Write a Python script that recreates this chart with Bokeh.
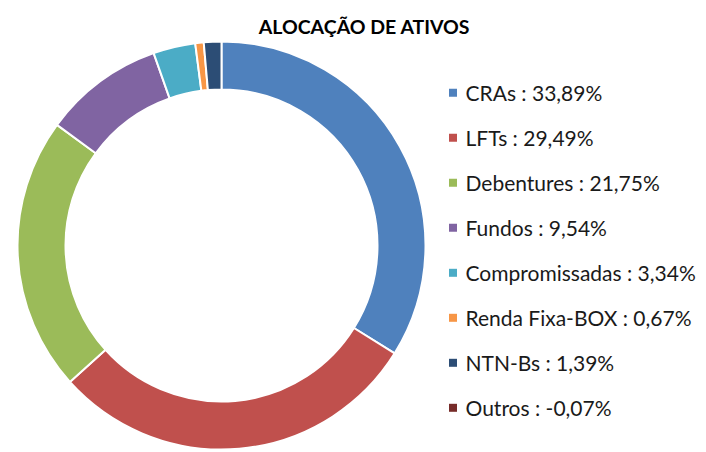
import math
from bokeh.plotting import figure
from bokeh.models import ColumnDataSource, Range1d
from bokeh.core.properties import value
from bokeh.embed import file_html
from bokeh.resources import INLINE

categories = ["CRAs", "LFTs", "Debentures", "Fundos", "Compromissadas",
              "Renda Fixa-BOX", "NTN-Bs", "Outros"]
values = [33.89, 29.49, 21.75, 9.54, 3.34, 0.67, 1.39, -0.07]
colors = ["#4F81BD", "#C0504D", "#9BBB59", "#8064A2", "#4BACC6",
          "#F79646", "#2C4D75", "#772C2A"]
title_text = "ALOCAÇÃO DE ATIVOS"

W, H = 704, 450
p = figure(width=W, height=H, output_backend="svg", toolbar_location=None,
           x_range=Range1d(0, W), y_range=Range1d(0, H), min_border=0)
p.axis.visible = False
p.grid.visible = False
p.outline_line_color = None

pos = [max(v, 0) for v in values]
total = sum(pos)
wc, ws, we = [], [], []
a = math.pi / 2
for v, c in zip(pos, colors):
    b = a - v / total * 2 * math.pi
    if v > 0:
        wc.append(c)
        ws.append(a)
        we.append(b)
    a = b

src = ColumnDataSource(dict(color=wc, start=ws, end=we))
cx, cy = 221, H - 245
p.annular_wedge(x=cx, y=cy, inner_radius=156, outer_radius=204,
                start_angle="start", end_angle="end", direction="clock",
                fill_color="color", line_color="white", line_width=2,
                source=src)

labels = [f"{c} : {v:.2f}%".replace(".", ",") for c, v in zip(categories, values)]
n = len(categories)
ly = [H - (92.3 + 45.0 * i) for i in range(n)]
lsrc = ColumnDataSource(dict(x=[452.5] * n, tx=[465] * n,
                             y=ly, color=colors, label=labels))
p.rect(x="x", y="y", width=8, height=8, fill_color="color", line_color=None,
       source=lsrc)
p.text(x="tx", y="y", text="label", text_font=value("Lato"),
       text_font_size="21px", text_baseline="middle", text_color="#1a1a1a",
       source=lsrc)

p.text(x=[364], y=[H - 26], text=[title_text], text_font=value("Lato"),
       text_font_size="19.5px", text_font_style="bold", text_align="center",
       text_baseline="alphabetic", text_color="#000000")

open("out.html", "w").write(file_html(p, INLINE))
